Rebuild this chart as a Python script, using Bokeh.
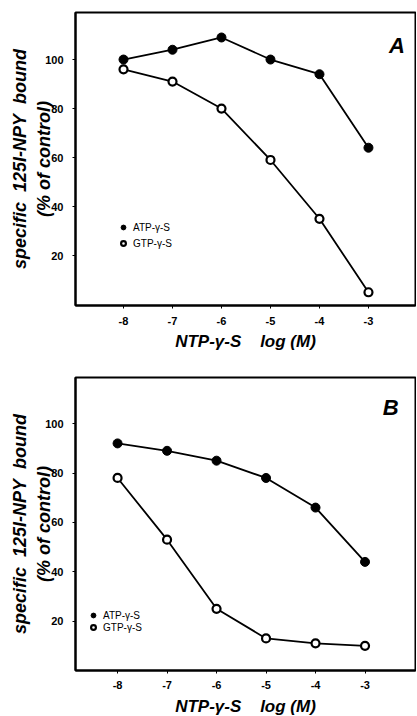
from bokeh.plotting import figure
from bokeh.layouts import column
from bokeh.models import FixedTicker, Legend, LegendItem, Range1d
from bokeh.core.properties import value
from bokeh.embed import file_html
from bokeh.resources import INLINE

log_conc = [-8, -7, -6, -5, -4, -3]
atp_a = [100, 104, 109, 100, 94, 64]
gtp_a = [96, 91, 80, 59, 35, 5]
atp_b = [92, 89, 85, 78, 66, 44]
gtp_b = [78, 53, 25, 13, 11, 10]
x_ticks = [-8, -7, -6, -5, -4, -3]
x_tick_labels = ["-8", "-7", "-6", "-5", "-4", "-3"]
y_ticks = [20, 40, 60, 80, 100]
y_tick_labels = ["20", "40", "60", "80", "100"]
series_names = ["ATP-\u03b3-S", "GTP-\u03b3-S"]
panel_letters = ["A", "B"]
y_title = "specific\u00a0\u00a0125I-NPY\u00a0\u00a0bound\n(% of control)"
x_title = "NTP-\u03b3-S\u00a0\u00a0\u00a0\u00a0log (M)"

FONT = "Liberation Sans"


def make_panel(atp, gtp, letter, xr, yr, btop, bbottom, tick_sd, lab_sd,
               leg_loc, leg_h, leg_sp, letter_xy):
    p = figure(frame_width=340, frame_height=293, output_backend="svg",
               toolbar_location=None,
               x_range=Range1d(*xr), y_range=Range1d(*yr),
               min_border_left=75, min_border_right=1,
               min_border_top=btop, min_border_bottom=bbottom)
    p.outline_line_color = "black"
    p.outline_line_width = 2
    p.xgrid.visible = False
    p.ygrid.visible = False
    p.background_fill_color = "white"
    p.border_fill_color = "white"

    p.xaxis.ticker = FixedTicker(ticks=x_ticks)
    p.xaxis.major_label_overrides = dict(zip(x_ticks, x_tick_labels))
    p.yaxis.ticker = FixedTicker(ticks=y_ticks)
    p.yaxis.major_label_overrides = dict(zip(y_ticks, y_tick_labels))
    for ax in (p.xaxis, p.yaxis):
        ax.axis_line_color = "black"
        ax.axis_line_width = 2
        ax.major_tick_line_color = "black"
        ax.major_tick_line_width = 1
        ax.major_tick_out = 3
        ax.major_tick_in = 0
        ax.minor_tick_line_color = None
        ax.major_label_text_font = FONT
        ax.major_label_text_font_style = "bold"
        ax.major_label_text_font_size = "11px"
        ax.major_label_text_color = "black"
        ax.axis_label_text_font = FONT
        ax.axis_label_text_font_style = "bold italic"
        ax.axis_label_text_color = "black"
    p.xaxis.major_label_standoff = tick_sd
    p.yaxis.major_label_standoff = 9
    p.xaxis.axis_label = x_title
    p.xaxis.axis_label_text_font_size = "17px"
    p.xaxis.axis_label_standoff = lab_sd
    p.yaxis.axis_label = y_title
    p.yaxis.axis_label_text_font_size = "18px"
    p.yaxis.axis_label_standoff = -12

    p.line(log_conc, atp, line_color="black", line_width=1.8)
    p.line(log_conc, gtp, line_color="black", line_width=1.8)
    r_atp = p.scatter(log_conc, atp, size=9, marker="circle", fill_color="black",
                      line_color="black", line_width=1)
    r_gtp = p.scatter(log_conc, gtp, size=8, marker="circle", fill_color="white",
                      line_color="black", line_width=2.2)

    p.text(x=[letter_xy[0]], y=[letter_xy[1]], text=[letter], text_font=value(FONT),
           text_font_style="bold italic", text_font_size="22px",
           text_align="center", text_baseline="middle", text_color="black")

    legend = Legend(items=[LegendItem(label=series_names[0], renderers=[r_atp]),
                           LegendItem(label=series_names[1], renderers=[r_gtp])],
                    location=leg_loc)
    legend.background_fill_alpha = 0
    legend.border_line_color = None
    legend.padding = 0
    legend.margin = 0
    legend.spacing = leg_sp
    legend.glyph_height = leg_h
    legend.glyph_width = 12
    legend.label_height = leg_h
    legend.label_standoff = 4
    legend.label_text_font = FONT
    legend.label_text_font_size = "10px"
    legend.label_text_color = "black"
    p.add_layout(legend, "center")
    return p


pa = make_panel(atp_a, gtp_a, panel_letters[0], (-8.98, -2.04), (-0.4, 119.2),
                12, 50, 8, 4, (42, 55), 14, 2, (-2.42, 105.7))
pb = make_panel(atp_b, gtp_b, panel_letters[1], (-8.85, -1.98), (0, 118.7),
                22, 46, 7, 5, (12, 37), 12, 0, (-2.48, 106.6))

layout = column(pa, pb, spacing=0)
open("out.html", "w").write(file_html(layout, INLINE))
